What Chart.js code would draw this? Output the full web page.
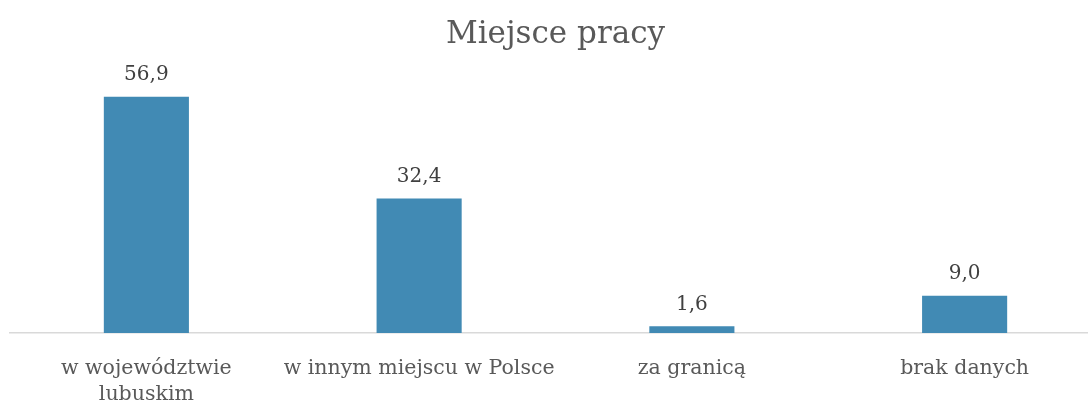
<!DOCTYPE html>
<html>
<head>
<meta charset="utf-8">
<script src="https://cdn.jsdelivr.net/npm/chart.js@4"></script>
<style>
  html, body { margin: 0; padding: 0; background: #fff; overflow: hidden; }
  #wrap { width: 1101px; height: 403px; }
</style>
</head>
<body>
<div id="wrap"><canvas id="chart"></canvas></div>
<script>
const titleText = "Miejsce pracy";
const categories = [["w województwie", "lubuskim"], "w innym miejscu w Polsce", "za granicą", "brak danych"];
const values = [56.9, 32.4, 1.6, 9.0];

const fontFamily = "'DejaVu Serif', 'Liberation Serif', serif";
const textColor = "#595959";

// draws the value above each bar, with a comma as decimal separator
const valueLabels = {
    id: "valueLabels",
    afterDatasetsDraw(chart) {
        const ctx = chart.ctx;
        const meta = chart.getDatasetMeta(0);
        ctx.save();
        ctx.font = "20px " + fontFamily;
        ctx.fillStyle = "#404040";
        ctx.textAlign = "center";
        ctx.textBaseline = "middle";
        meta.data.forEach((bar, i) => {
            const txt = values[i].toFixed(1).replace(".", ",");
            ctx.fillText(txt, bar.x, bar.y - 22);
        });
        ctx.restore();
    }
};

new Chart(document.getElementById("chart"), {
    type: "bar",
    data: {
        labels: categories,
        datasets: [{
            data: values,
            backgroundColor: "#418ab4",
            barPercentage: 0.312,
            categoryPercentage: 1
        }]
    },
    options: {
        responsive: true,
        maintainAspectRatio: false,
        animation: false,
        layout: { padding: { left: 10, right: 0, top: 0, bottom: 0 } },
        plugins: {
            legend: { display: false },
            tooltip: { enabled: false },
            title: {
                display: true,
                text: titleText,
                color: textColor,
                font: { family: fontFamily, size: 31, weight: "normal" },
                padding: { top: 16, bottom: 30.8 }
            }
        },
        scales: {
            x: {
                grid: { display: false },
                border: { display: true, color: "#d9d9d9", width: 1.5 },
                ticks: {
                    color: textColor,
                    font: { family: fontFamily, size: 20.5, lineHeight: 1.25 },
                    padding: 15,
                    maxRotation: 0,
                    autoSkip: false
                },
                afterFit(scale) { scale.height = 70; }
            },
            y: {
                display: false,
                min: 0,
                max: 60
            }
        }
    },
    plugins: [valueLabels]
});
</script>
</body>
</html>
